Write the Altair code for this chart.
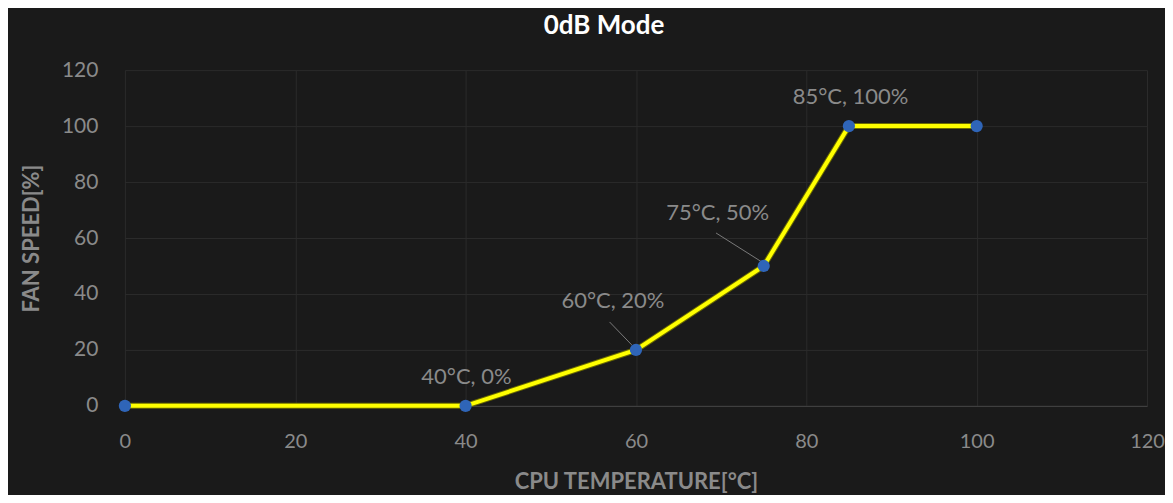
import altair as alt
import pandas as pd

temps = [0, 40, 60, 75, 85, 100]
speeds = [0, 0, 20, 50, 100, 100]

label_texts = ["40°C, 0%", "60°C, 20%", "75°C, 50%", "85°C, 100%"]
label_x = [40.1, 57.3, 69.6, 85.2]
label_y = [10.4, 37.5, 68.9, 110.4]

leader_x = [56.9, 69.4]
leader_y = [30.0, 61.8]
leader_x2 = [59.5, 74.8]
leader_y2 = [21.8, 51.4]

df = pd.DataFrame({"t": temps, "s": speeds})
lab = pd.DataFrame({"txt": label_texts, "x": label_x, "y": label_y})
lead = pd.DataFrame({"x": leader_x, "y": leader_y, "x2": leader_x2, "y2": leader_y2})

FONT = "Lato"
GRAY = "#8a8a8a"

xs = alt.Scale(domain=[0, 120], nice=False)
ys = alt.Scale(domain=[0, 120], nice=False)

xax = alt.Axis(values=[0, 20, 40, 60, 80, 100, 120], title="CPU TEMPERATURE[°C]",
               ticks=False, labelPadding=26, labelFontSize=20, labelColor=GRAY,
               labelFont=FONT, titleFont=FONT, titleFontSize=22, titleFontWeight="bold",
               titleColor=GRAY, titlePadding=20, gridColor="#2b2b2b", domainColor="#444444",
               labelFlush=False)
yax = alt.Axis(values=[0, 20, 40, 60, 80, 100, 120], title="FAN SPEED[%]",
               ticks=False, labelPadding=27, labelFontSize=21, labelColor=GRAY,
               labelFont=FONT, titleFont=FONT, titleFontSize=22, titleFontWeight="bold",
               titleColor=GRAY, titlePadding=18, gridColor="#2b2b2b", domain=False)

base = alt.Chart(df)
line_bg = base.mark_line(color="#6b6b00", strokeWidth=6).encode(
    x=alt.X("t:Q", scale=xs, axis=xax), y=alt.Y("s:Q", scale=ys, axis=yax))
line = base.mark_line(color="#ffff00", strokeWidth=4).encode(x="t:Q", y="s:Q")
pts = base.mark_point(filled=True, size=150, color="#2f65b8", opacity=1).encode(x="t:Q", y="s:Q")

rules = alt.Chart(lead).mark_rule(color="#7a7a7a", strokeWidth=1).encode(
    x="x:Q", y="y:Q", x2="x2:Q", y2="y2:Q")
texts = alt.Chart(lab).mark_text(font=FONT, fontSize=22, color=GRAY).encode(
    x="x:Q", y="y:Q", text="txt:N")

chart = alt.layer(line_bg, line, rules, pts, texts).properties(
    width=1023, height=336,
    background="#1a1a1a",
    autosize=alt.AutoSizeParams(type="none"),
    padding={"left": 117, "top": 62, "right": 18, "bottom": 89},
    title=alt.TitleParams("0dB Mode", font=FONT, fontSize=26, fontWeight="bold",
                          color="#ffffff", anchor="middle", dx=-32, offset=20),
).configure_view(stroke=None)

chart.save("out.html", embed_options={"renderer": "svg", "actions": False})
